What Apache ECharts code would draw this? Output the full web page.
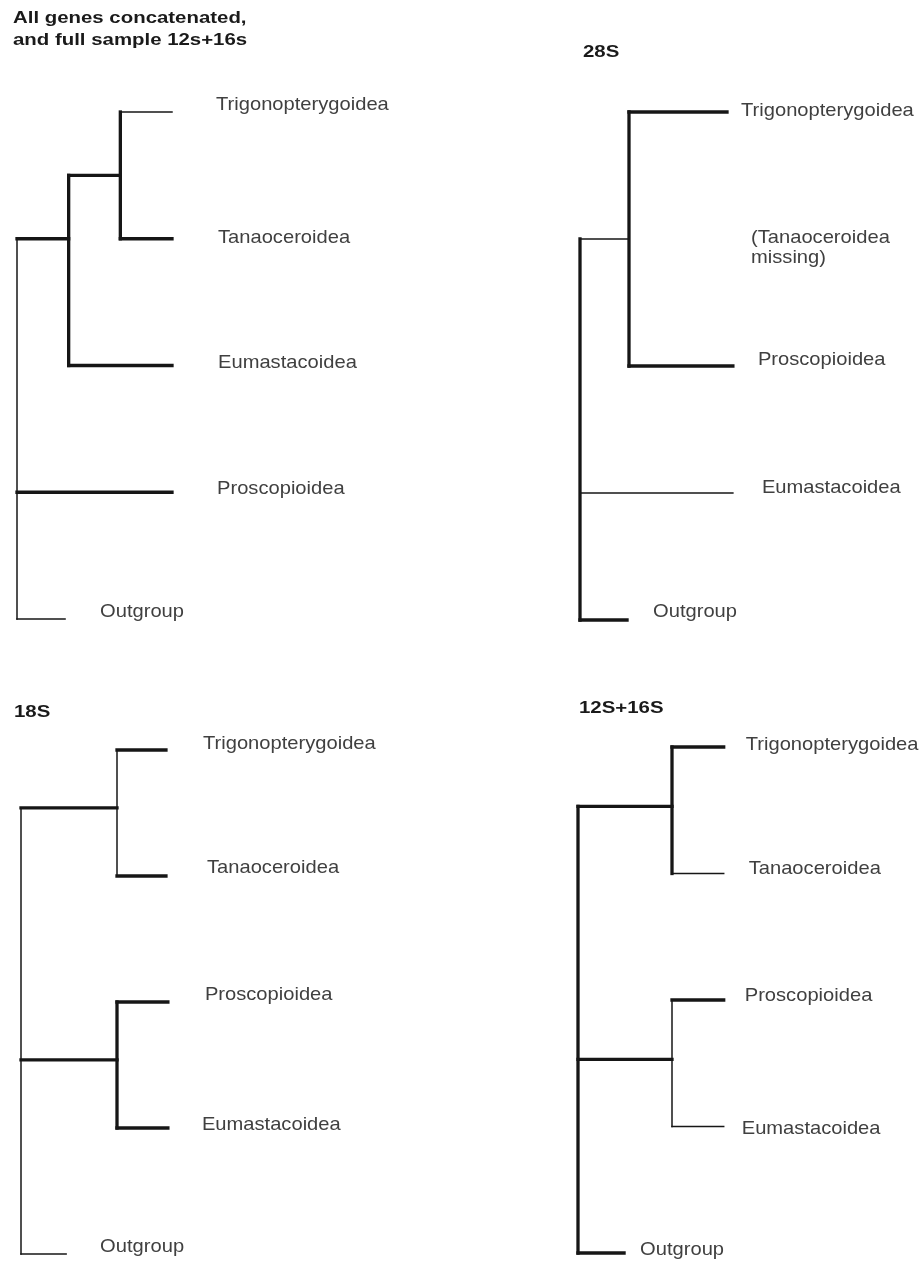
<!DOCTYPE html>
<html><head><meta charset="utf-8">
<script src="https://cdn.jsdelivr.net/npm/echarts@6/dist/echarts.min.js"></script>
<style>html,body{margin:0;padding:0;background:#fff}#c{width:921px;height:1262px}</style>
</head><body><div id="c"></div>
<script>
// ===================== DATA =====================
const panelTitles = ['All genes concatenated,\nand full sample 12s+16s', '28S', '18S', '12S+16S'];

// --- Tree 1: all genes concatenated ---
const t1Taxa        = ['Trigonopterygoidea', 'Tanaoceroidea', 'Eumastacoidea', 'Proscopioidea', 'Outgroup'];
const t1TaxaRow     = [0, 1, 2, 3, 4];
const t1TaxaDepth   = [3, 3, 3, 3, 0.93];
const t1TaxaParent  = ['B', 'B', 'A', 'root', 'root'];
const t1TaxaSupport = [0, 1, 1, 1, 0];        // 1 = strongly supported (bold) branch
const t1Nodes       = ['root', 'A', 'B'];
const t1NodeDepth   = [0, 1, 2];
const t1NodeRow     = [null, 1, 0.5];
const t1NodeParent  = [null, 'root', 'A'];
const t1StemSupport = [0, 1, 1];
const t1SpanSupport = [0, 1, 1];

// --- Tree 2: 28S (Tanaoceroidea missing) ---
const t2Taxa        = ['Trigonopterygoidea', '(Tanaoceroidea\nmissing)', 'Proscopioidea', 'Eumastacoidea', 'Outgroup'];
const t2TaxaRow     = [0, 1, 2, 3, 4];
const t2TaxaDepth   = [3, 3, 3.12, 3.12, 0.96];
const t2TaxaParent  = ['A', null, 'A', 'root', 'root'];
const t2TaxaSupport = [1, 0, 1, 0, 1];
const t2Nodes       = ['root', 'A'];
const t2NodeDepth   = [0, 1];
const t2NodeRow     = [null, 1];
const t2NodeParent  = [null, 'root'];
const t2StemSupport = [0, 0];
const t2SpanSupport = [1, 1];

// --- Tree 3: 18S ---
const t3Taxa        = ['Trigonopterygoidea', 'Tanaoceroidea', 'Proscopioidea', 'Eumastacoidea', 'Outgroup'];
const t3TaxaRow     = [0, 1, 2, 3, 4];
const t3TaxaDepth   = [3.02, 3.02, 3.06, 3.06, 0.94];
const t3TaxaParent  = ['A', 'A', 'B', 'B', 'root'];
const t3TaxaSupport = [1, 1, 1, 1, 0];
const t3Nodes       = ['root', 'A', 'B'];
const t3NodeDepth   = [0, 2, 2];
const t3NodeRow     = [null, 0.46, 2.46];
const t3NodeParent  = [null, 'root', 'root'];
const t3StemSupport = [0, 1, 1];
const t3SpanSupport = [0, 0, 1];

// --- Tree 4: 12S+16S ---
const t4Taxa        = ['Trigonopterygoidea', 'Tanaoceroidea', 'Proscopioidea', 'Eumastacoidea', 'Outgroup'];
const t4TaxaRow     = [0, 1, 2, 3, 4];
const t4TaxaDepth   = [3.1, 3.1, 3.1, 3.1, 0.98];
const t4TaxaParent  = ['A', 'A', 'B', 'B', 'root'];
const t4TaxaSupport = [1, 0, 1, 0, 1];
const t4Nodes       = ['root', 'A', 'B'];
const t4NodeDepth   = [0, 2, 2];
const t4NodeRow     = [null, 0.47, 2.47];
const t4NodeParent  = [null, 'root', 'root'];
const t4StemSupport = [0, 1, 1];
const t4SpanSupport = [1, 1, 0];

// ===================== LAYOUT / STYLE =====================
const grids = [
  { left: 17,  top: 112, width: 155, height: 507 },
  { left: 580, top: 112, width: 147, height: 508 },
  { left: 21,  top: 750, width: 144, height: 504 },
  { left: 578, top: 747, width: 141, height: 506 }
];
// title anchor: x = left edge, y = top (first) or vertical middle (others)
const titlePos = [ {x: 13, y: 7, va: 'top'}, {x: 583, y: 52, va: 'middle'}, {x: 14, y: 712, va: 'middle'}, {x: 579, y: 708, va: 'middle'} ];
const labelGap = [ [44, 46, 46, 45, 35], [14, 24, 25, 29, 26], [37, 41, 37, 34, 34], [22, 25, 21, 18, 16] ];
const labelDy  = [ [-7, -1, -3, -3, -7], [-1, 9, -6, -5, -8], [-6, -8, -7, -3, -7], [-2, -5, -4, 2, -3] ];
const LINE_COLOR = '#161616', TEXT_COLOR = '#404040', TITLE_COLOR = '#1a1a1a';
const THICK = 3.3, THIN = 1.5;
const LABEL_FONT = 19, LABEL_STRETCH = 1.06;
const TITLE_FONT = 17, TITLE_STRETCH = 1.2;
const FONT_FAMILY = '"Liberation Sans", Arial, sans-serif';

const trees = [
  { taxa: t1Taxa, taxaRow: t1TaxaRow, taxaDepth: t1TaxaDepth, taxaParent: t1TaxaParent, taxaSupport: t1TaxaSupport,
    nodes: t1Nodes, nodeDepth: t1NodeDepth, nodeRow: t1NodeRow, nodeParent: t1NodeParent, stemSupport: t1StemSupport, spanSupport: t1SpanSupport },
  { taxa: t2Taxa, taxaRow: t2TaxaRow, taxaDepth: t2TaxaDepth, taxaParent: t2TaxaParent, taxaSupport: t2TaxaSupport,
    nodes: t2Nodes, nodeDepth: t2NodeDepth, nodeRow: t2NodeRow, nodeParent: t2NodeParent, stemSupport: t2StemSupport, spanSupport: t2SpanSupport },
  { taxa: t3Taxa, taxaRow: t3TaxaRow, taxaDepth: t3TaxaDepth, taxaParent: t3TaxaParent, taxaSupport: t3TaxaSupport,
    nodes: t3Nodes, nodeDepth: t3NodeDepth, nodeRow: t3NodeRow, nodeParent: t3NodeParent, stemSupport: t3StemSupport, spanSupport: t3SpanSupport },
  { taxa: t4Taxa, taxaRow: t4TaxaRow, taxaDepth: t4TaxaDepth, taxaParent: t4TaxaParent, taxaSupport: t4TaxaSupport,
    nodes: t4Nodes, nodeDepth: t4NodeDepth, nodeRow: t4NodeRow, nodeParent: t4NodeParent, stemSupport: t4StemSupport, spanSupport: t4SpanSupport }
];

function buildSegments(t) {
  const segs = [];
  const children = {};
  t.nodes.forEach(n => children[n] = []);
  const depthOf = n => t.nodeDepth[t.nodes.indexOf(n)];
  t.taxa.forEach((name, i) => {
    const p = t.taxaParent[i];
    if (!p) return;
    children[p].push(t.taxaRow[i]);
    segs.push([depthOf(p), t.taxaRow[i], t.taxaDepth[i], t.taxaRow[i], t.taxaSupport[i]]);
  });
  t.nodes.forEach((n, i) => {
    const p = t.nodeParent[i];
    if (!p) return;
    children[p].push(t.nodeRow[i]);
    segs.push([depthOf(p), t.nodeRow[i], t.nodeDepth[i], t.nodeRow[i], t.stemSupport[i]]);
  });
  t.nodes.forEach((n, i) => {
    const rows = children[n];
    segs.push([t.nodeDepth[i], Math.min(...rows), t.nodeDepth[i], Math.max(...rows), t.spanSupport[i]]);
  });
  return segs;
}

const option = {
  backgroundColor: '#ffffff',
  animation: false,
  graphic: panelTitles.map((txt, i) => ({
    type: 'text', x: titlePos[i].x, y: titlePos[i].y, scaleX: TITLE_STRETCH, silent: true,
    style: { text: txt, fill: TITLE_COLOR, fontFamily: FONT_FAMILY, fontSize: TITLE_FONT, fontWeight: 'bold',
             lineHeight: 22, align: 'left', verticalAlign: titlePos[i].va }
  })),
  grid: grids.map(g => Object.assign({ containLabel: false, show: false }, g)),
  xAxis: grids.map((g, i) => ({ type: 'value', gridIndex: i, min: 0, max: 3, show: false })),
  yAxis: grids.map((g, i) => ({ type: 'value', gridIndex: i, min: 0, max: 4, inverse: true, show: false })),
  series: []
};

trees.forEach((t, ti) => {
  option.series.push({
    type: 'custom', xAxisIndex: ti, yAxisIndex: ti, clip: false, silent: true,
    data: buildSegments(t),
    encode: { x: [0, 2], y: [1, 3] },
    renderItem: function (params, api) {
      const a = api.coord([api.value(0), api.value(1)]);
      const b = api.coord([api.value(2), api.value(3)]);
      const strong = api.value(4) === 1;
      return { type: 'line', shape: { x1: a[0], y1: a[1], x2: b[0], y2: b[1] },
               style: { stroke: LINE_COLOR, lineWidth: strong ? THICK : THIN, lineCap: 'square' } };
    }
  });
  option.series.push({
    type: 'custom', xAxisIndex: ti, yAxisIndex: ti, clip: false, silent: true,
    data: t.taxa.map((name, i) => [t.taxaDepth[i], t.taxaRow[i], i]),
    encode: { x: 0, y: 1 },
    renderItem: function (params, api) {
      const i = api.value(2);
      const p = api.coord([api.value(0), api.value(1)]);
      return { type: 'text', x: p[0] + labelGap[ti][i], y: p[1] + labelDy[ti][i], scaleX: LABEL_STRETCH,
               style: { x: 0, y: 0, text: t.taxa[i], fill: TEXT_COLOR, fontFamily: FONT_FAMILY, fontSize: LABEL_FONT,
                        verticalAlign: 'middle', align: 'left', lineHeight: 20 } };
    }
  });
});

const chart = echarts.init(document.getElementById('c'), null, { renderer: 'canvas' });
chart.setOption(option);
</script>
</body></html>
